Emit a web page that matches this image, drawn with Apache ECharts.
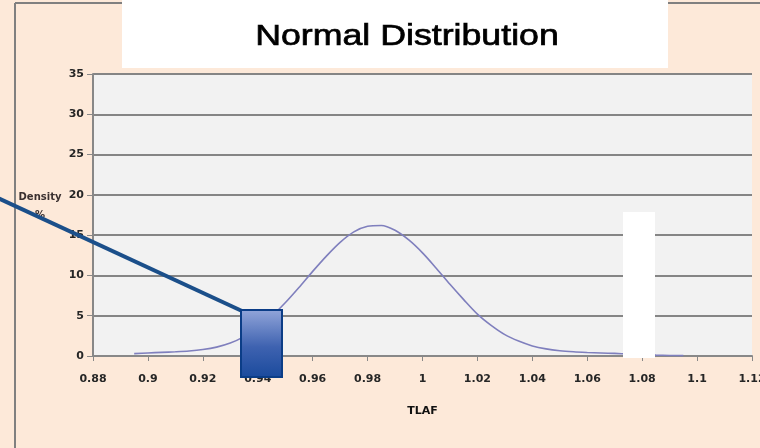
<!DOCTYPE html>
<html>
<head>
<meta charset="utf-8">
<script src="https://cdn.jsdelivr.net/npm/echarts@6/dist/echarts.min.js"></script>
<style>
html,body{margin:0;padding:0;background:#FDE9D9;}
#c{width:760px;height:448px;}
</style>
</head>
<body>
<div id="c"></div>
<script>
// ---- data ----
var titleText = 'Normal Distribution';
var xAxisName = 'TLAF';
var yAxisName = 'Density\n%';
var tlaf = [0.895,0.9,0.905,0.91,0.915,0.92,0.925,0.93,0.935,0.94,0.945,0.95,0.955,0.96,0.965,0.97,0.975,0.98,0.985,0.99,0.995,1.0,1.005,1.01,1.015,1.02,1.025,1.03,1.035,1.04,1.045,1.05,1.055,1.06,1.065,1.07,1.075,1.08,1.085,1.09,1.095];
var density = [0.3,0.38,0.45,0.52,0.62,0.8,1.1,1.6,2.4,3.5,4.9,6.6,8.5,10.5,12.4,14.1,15.4,16.1,16.2,15.6,14.4,12.8,10.9,8.9,7.0,5.2,3.8,2.65,1.85,1.25,0.88,0.65,0.52,0.44,0.38,0.32,0.25,0.17,0.11,0.07,0.05];
var xMin = 0.88, xMax = 1.12, xStep = 0.02;
var yMin = 0, yMax = 35, yStep = 5;

var points = tlaf.map(function (x, i) { return [x, density[i]]; });

var chart = echarts.init(document.getElementById('c'), null, {renderer: 'canvas'});
var labelFont = {fontFamily: 'DejaVu Sans', fontSize: 11, fontWeight: 'bold', color: '#262626'};
chart.setOption({
  backgroundColor: '#FDE9D9',
  animation: false,
  grid: {left: 93, right: 8, top: 74, bottom: 92, show: true, backgroundColor: '#F2F2F2', borderWidth: 0,
    containLabel: false, outerBoundsMode: 'none'},
  xAxis: {
    type: 'value', min: xMin, max: xMax, interval: xStep,
    name: xAxisName, nameLocation: 'middle', nameGap: 50,
    nameTextStyle: {fontFamily: 'DejaVu Sans', fontSize: 11, fontWeight: 'bold', color: '#111'},
    axisLine: {show: true, onZero: false, lineStyle: {color: '#888', width: 2}},
    axisTick: {show: true, length: 5, lineStyle: {color: '#888', width: 1}},
    axisLabel: Object.assign({margin: 18, hideOverlap: false, showMaxLabel: true, formatter: function (v) { return String(Math.round(v * 100) / 100); }}, labelFont),
    splitLine: {show: false}
  },
  yAxis: {
    type: 'value', min: yMin, max: yMax, interval: yStep,
    axisLine: {show: true, lineStyle: {color: '#888', width: 2}},
    axisTick: {show: true, length: 6, lineStyle: {color: '#888', width: 1}},
    axisLabel: Object.assign({margin: 9}, labelFont),
    splitLine: {show: true, lineStyle: {color: '#858585', width: 2}}
  },
  series: [{
    type: 'line', data: points, smooth: 0.3, showSymbol: false, symbol: 'none',
    lineStyle: {color: '#7f7fbd', width: 1.6}, z: 3
  }],
  graphic: [
    {type: 'line', shape: {x1: 15, y1: 3, x2: 760, y2: 3}, style: {stroke: '#808080', lineWidth: 2}, z: 1},
    {type: 'line', shape: {x1: 15, y1: 3, x2: 15, y2: 448}, style: {stroke: '#808080', lineWidth: 2}, z: 1},
    {type: 'rect', shape: {x: 122, y: 0, width: 546, height: 68}, style: {fill: '#ffffff'}, z: 2},
    {type: 'text', x: 407, y: 37, scaleX: 1.19, style: {text: titleText, fontFamily: 'Liberation Sans', fontSize: 30, fill: '#000', stroke: '#000', lineWidth: 0.7, align: 'center', verticalAlign: 'middle'}, z: 3},
    {type: 'text', x: 40, y: 188, style: {text: yAxisName, fontFamily: 'DejaVu Sans', fontSize: 10, fontWeight: 'bold', fill: '#3a3030', align: 'center', verticalAlign: 'top', lineHeight: 18}, z: 3},
    {type: 'rect', shape: {x: 623, y: 212, width: 32, height: 146}, style: {fill: '#ffffff'}, z: 20},
    {type: 'line', shape: {x1: -2, y1: 198, x2: 242, y2: 311}, style: {stroke: '#1B4F8A', lineWidth: 4}, z: 21},
    {type: 'rect', shape: {x: 241, y: 310, width: 41, height: 67},
      style: {stroke: '#0B3D87', lineWidth: 2,
        fill: new echarts.graphic.LinearGradient(0, 0, 0, 1, [
          {offset: 0, color: '#93A6DA'}, {offset: 0.55, color: '#3E62B0'}, {offset: 1, color: '#1A4A9C'}])}, z: 22}
  ]
});
</script>
</body>
</html>
